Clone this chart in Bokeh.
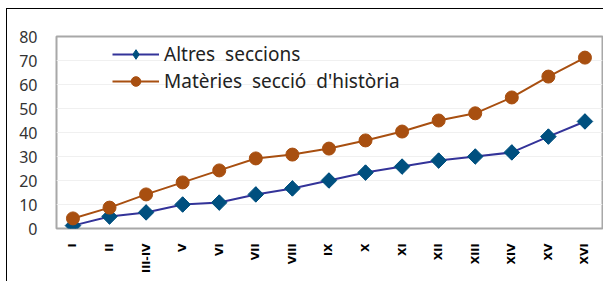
import math
from bokeh.plotting import figure
from bokeh.models import Legend, LegendItem, FixedTicker, Range1d
from bokeh.embed import file_html
from bokeh.resources import INLINE

categories = ["I", "II", "III-IV", "V", "VI", "VII", "VIII", "IX", "X", "XI", "XII", "XIII", "XIV", "XV", "XVI"]
altres = [1.2, 5, 6.7, 10, 10.8, 14.2, 16.7, 20, 23.3, 25.8, 28.3, 30, 31.7, 38.3, 44.6]
materies = [4.2, 8.7, 14.2, 19.2, 24.2, 29.2, 30.8, 33.3, 36.7, 40.4, 45, 48, 54.6, 63.3, 71.2]
y_ticks = [0, 10, 20, 30, 40, 50, 60, 70, 80]

xs = list(range(len(categories)))

p = figure(width=597, height=273, output_backend="svg", toolbar_location=None,
           x_range=Range1d(-0.45, len(categories) - 1 + 0.48), y_range=Range1d(0, 80),
           min_border_left=49, min_border_top=27, min_border_right=2, min_border_bottom=54)
p.styles = {"border-left": "1px solid black", "border-top": "1px solid black",
            "margin-top": "8px", "margin-left": "6px"}

p.outline_line_color = "#a8a8a8"
p.outline_line_width = 2
p.xgrid.grid_line_color = None
p.ygrid.grid_line_color = "#f0f0f0"
p.ygrid.ticker = FixedTicker(ticks=y_ticks)

p.yaxis.ticker = FixedTicker(ticks=y_ticks)
p.yaxis.axis_line_color = None
p.yaxis.major_tick_line_color = None
p.yaxis.minor_tick_line_color = None
p.yaxis.major_label_text_font = "Noto Sans"
p.yaxis.major_label_text_font_size = "16px"
p.yaxis.major_label_text_color = "#333333"
p.yaxis.major_label_standoff = 13

p.xaxis.ticker = FixedTicker(ticks=xs)
p.xaxis.major_label_overrides = {i: c for i, c in zip(xs, categories)}
p.xaxis.major_label_orientation = math.pi / 2
p.xaxis.axis_line_color = None
p.xaxis.major_tick_line_color = None
p.xaxis.minor_tick_line_color = None
p.xaxis.major_label_text_font = "DejaVu Sans"
p.xaxis.major_label_text_font_style = "bold"
p.xaxis.major_label_text_font_size = "11px"
p.xaxis.major_label_text_color = "#000000"
p.xaxis.major_label_standoff = 9

blue_line = "#333399"
blue_mark = "#00507f"
orange = "#a84f10"

l1 = p.line(xs, altres, line_color=blue_line, line_width=2)
# legend proxy diamond, hidden underneath the rotated-square markers
leg_d = p.scatter(xs, altres, marker="diamond", size=15,
                  fill_color=blue_mark, line_color=blue_mark)
m1 = p.scatter(xs, altres, marker="square", size=11, angle=math.pi / 4,
               fill_color=blue_mark, line_color=blue_mark)
l2 = p.line(xs, materies, line_color=orange, line_width=2)
m2 = p.scatter(xs, materies, marker="circle", size=13, fill_color=orange, line_color=orange)

legend = Legend(items=[LegendItem(label="Altres  seccions", renderers=[l1, leg_d]),
                       LegendItem(label="Matèries  secció  d'història", renderers=[l2, m2])],
                location=(56, 134), orientation="vertical",
                padding=0, spacing=1, margin=0,
                glyph_width=47, glyph_height=24, label_height=24,
                label_standoff=5,
                label_text_font="Noto Sans", label_text_font_size="19px",
                label_text_color="#222222",
                border_line_color=None, background_fill_alpha=0)
p.add_layout(legend, "center")

open("out.html", "w").write(file_html(p, INLINE))
